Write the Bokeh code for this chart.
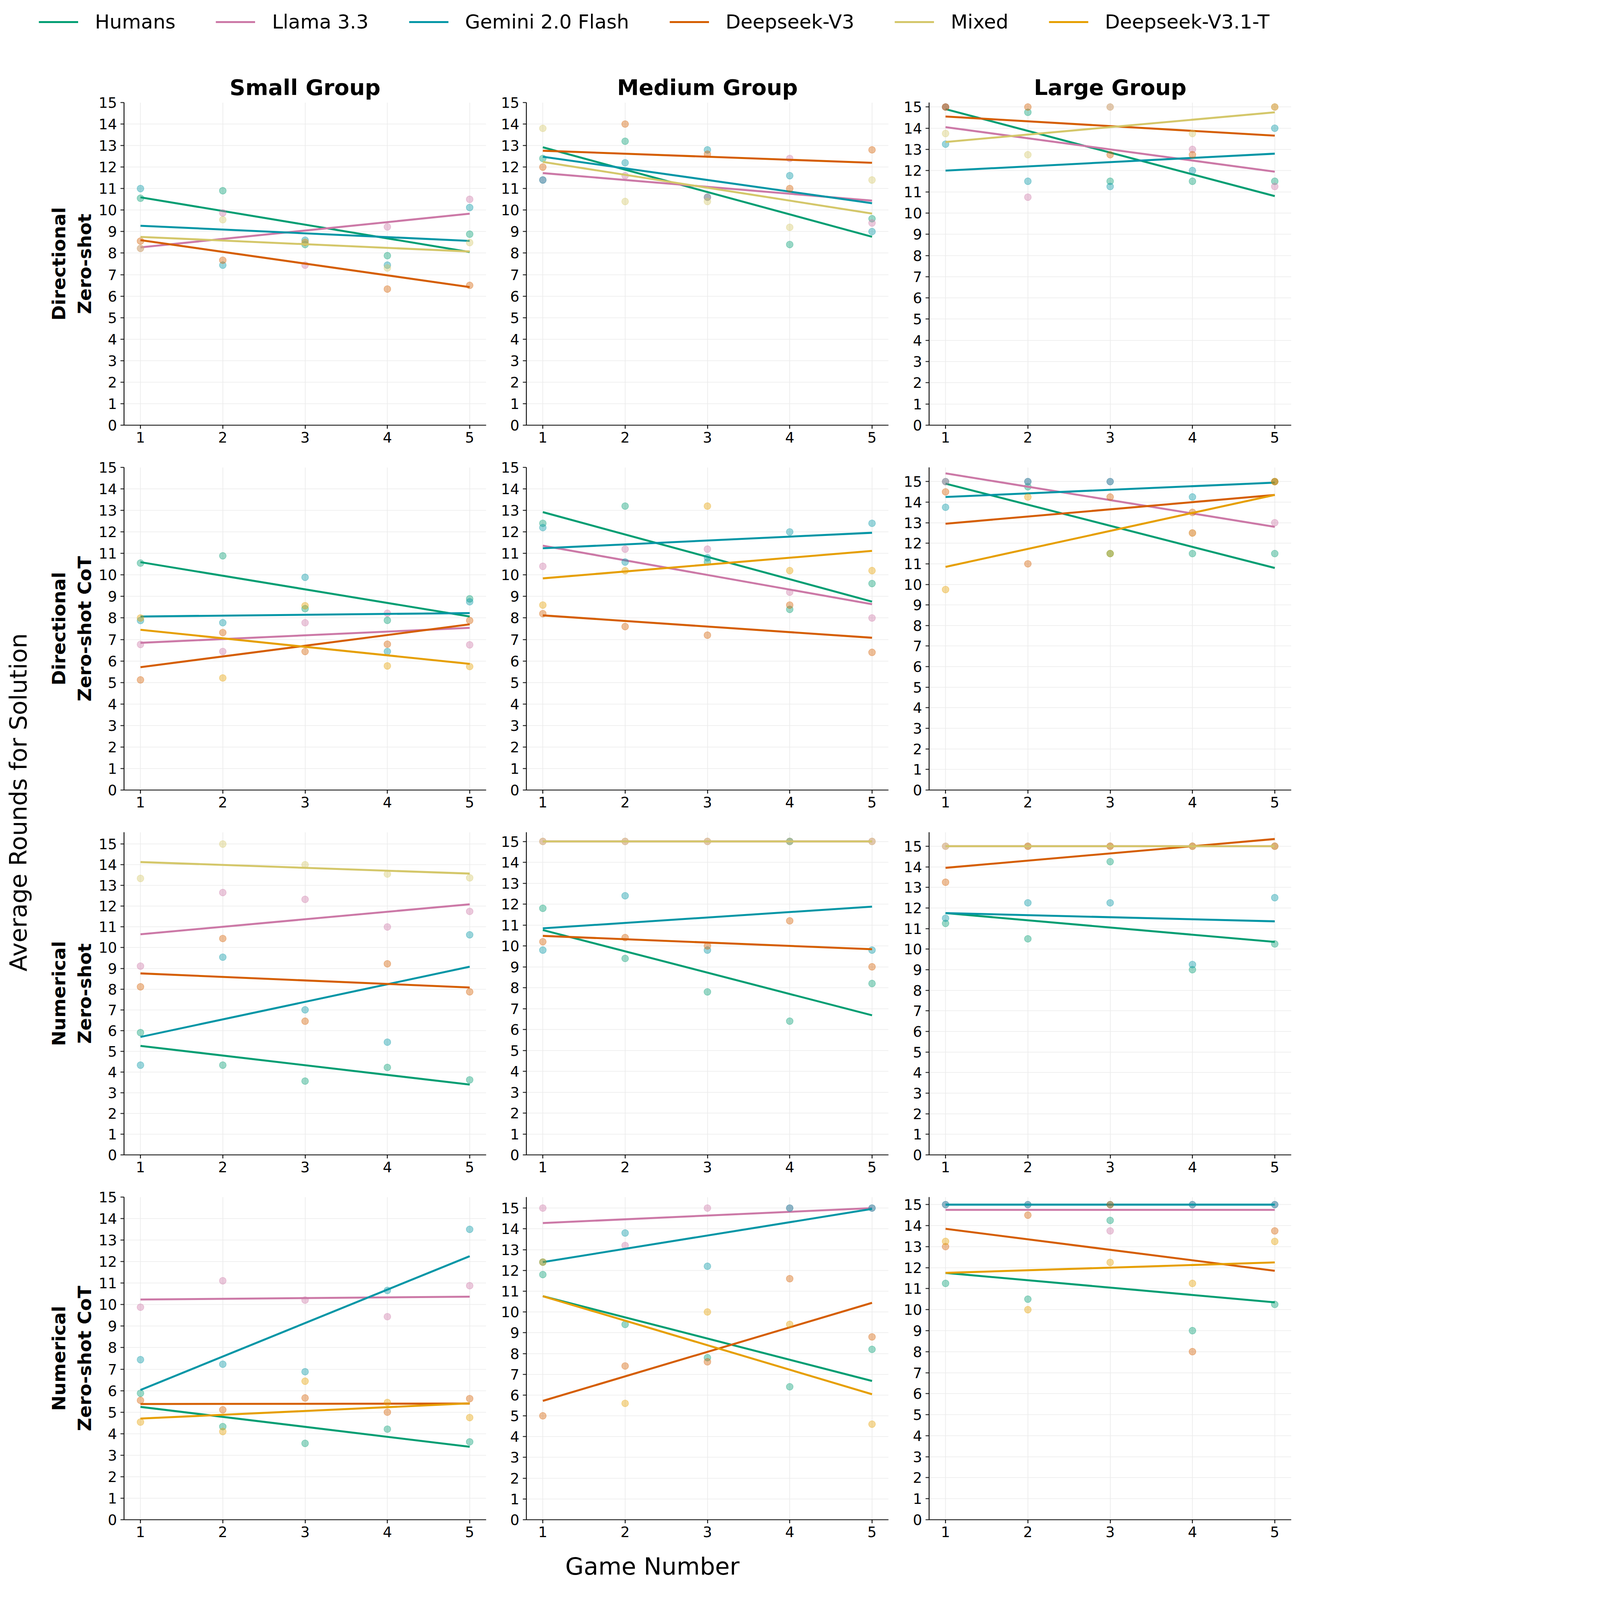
import numpy as np
from bokeh.plotting import figure
from bokeh.layouts import column, row
from bokeh.models import Range1d, FixedTicker, Legend, LegendItem
from bokeh.embed import file_html
from bokeh.resources import INLINE

# ---------------- data ----------------
GAMES = [1, 2, 3, 4, 5]
SERIES = ["Humans", "Llama 3.3", "Gemini 2.0 Flash", "Deepseek-V3", "Mixed", "Deepseek-V3.1-T"]
COLORS = ["#029E73", "#CC79A7", "#0396A6", "#D55E00", "#D4C76A", "#E69F00"]
GROUPS = ["Small Group", "Medium Group", "Large Group"]
CONDITIONS = ["Directional\nZero-shot", "Directional\nZero-shot CoT",
              "Numerical\nZero-shot", "Numerical\nZero-shot CoT"]
X_TICKS = [1, 2, 3, 4, 5]
Y_TICKS = list(range(0, 16))

# Directional Zero-shot
dir_zs_small = {
    "Humans": [10.55, 10.9, 8.4, 7.88, 8.88],
    "Llama 3.3": [8.22, 9.87, 7.44, 9.22, 10.5],
    "Gemini 2.0 Flash": [11.0, 7.44, 8.6, 7.44, 10.12],
    "Deepseek-V3": [8.56, 7.67, 8.5, 6.33, 6.5],
    "Mixed": [8.22, 9.55, 8.5, 7.31, 8.49],
}
dir_zs_medium = {
    "Humans": [12.4, 13.2, 10.6, 8.4, 9.6],
    "Llama 3.3": [11.4, 11.6, 10.6, 12.4, 9.4],
    "Gemini 2.0 Flash": [11.4, 12.2, 12.8, 11.6, 9.0],
    "Deepseek-V3": [12.0, 14.0, 12.6, 11.0, 12.8],
    "Mixed": [13.8, 10.4, 10.4, 9.2, 11.4],
}
dir_zs_large = {
    "Humans": [15.0, 14.75, 11.5, 11.5, 11.5],
    "Llama 3.3": [15.0, 10.75, 15.0, 13.0, 11.25],
    "Gemini 2.0 Flash": [13.25, 11.5, 11.25, 12.0, 14.0],
    "Deepseek-V3": [15.0, 15.0, 12.75, 12.75, 15.0],
    "Mixed": [13.75, 12.75, 15.0, 13.75, 15.0],
}
# Directional Zero-shot CoT
dir_cot_small = {
    "Humans": [10.55, 10.89, 8.43, 7.89, 8.89],
    "Llama 3.3": [6.77, 6.44, 7.78, 8.22, 6.75],
    "Gemini 2.0 Flash": [7.88, 7.78, 9.89, 6.44, 8.75],
    "Deepseek-V3": [5.12, 7.32, 6.44, 6.78, 7.88],
    "Deepseek-V3.1-T": [8.0, 5.21, 8.57, 5.77, 5.74],
}
dir_cot_medium = {
    "Humans": [12.4, 13.2, 10.6, 8.4, 9.6],
    "Llama 3.3": [10.4, 11.2, 11.2, 9.2, 8.0],
    "Gemini 2.0 Flash": [12.2, 10.6, 10.8, 12.0, 12.4],
    "Deepseek-V3": [8.2, 7.6, 7.2, 8.6, 6.4],
    "Deepseek-V3.1-T": [8.6, 10.2, 13.2, 10.2, 10.2],
}
dir_cot_large = {
    "Humans": [15.0, 14.75, 11.5, 11.5, 11.5],
    "Llama 3.3": [15.0, 15.0, 15.0, 12.5, 13.0],
    "Gemini 2.0 Flash": [13.75, 15.0, 15.0, 14.25, 15.0],
    "Deepseek-V3": [14.5, 11.0, 14.25, 13.5, 15.0],
    "Deepseek-V3.1-T": [9.75, 14.25, 11.5, 12.5, 15.0],
}
# Numerical Zero-shot
num_zs_small = {
    "Humans": [5.9, 4.33, 3.56, 4.22, 3.62],
    "Llama 3.3": [9.11, 12.66, 12.33, 11.0, 11.75],
    "Gemini 2.0 Flash": [4.33, 9.54, 7.0, 5.44, 10.62],
    "Deepseek-V3": [8.11, 10.44, 6.45, 9.22, 7.87],
    "Mixed": [13.34, 15.0, 14.0, 13.55, 13.37],
}
num_zs_medium = {
    "Humans": [11.8, 9.4, 7.8, 6.4, 8.2],
    "Llama 3.3": [15.0, 15.0, 15.0, 15.0, 15.0],
    "Gemini 2.0 Flash": [9.8, 12.4, 9.8, 15.0, 9.8],
    "Deepseek-V3": [10.2, 10.4, 10.0, 11.2, 9.0],
    "Mixed": [15.0, 15.0, 15.0, 15.0, 15.0],
}
num_zs_large = {
    "Humans": [11.25, 10.5, 14.25, 9.0, 10.25],
    "Llama 3.3": [15.0, 15.0, 15.0, 15.0, 15.0],
    "Gemini 2.0 Flash": [11.5, 12.25, 12.25, 9.25, 12.5],
    "Deepseek-V3": [13.25, 15.0, 15.0, 15.0, 15.0],
    "Mixed": [15.0, 15.0, 15.0, 15.0, 15.0],
}
# Numerical Zero-shot CoT
num_cot_small = {
    "Humans": [5.88, 4.33, 3.55, 4.21, 3.62],
    "Llama 3.3": [9.88, 11.11, 10.21, 9.44, 10.88],
    "Gemini 2.0 Flash": [7.44, 7.23, 6.88, 10.66, 13.5],
    "Deepseek-V3": [5.55, 5.11, 5.66, 5.0, 5.63],
    "Deepseek-V3.1-T": [4.54, 4.1, 6.44, 5.45, 4.75],
}
num_cot_medium = {
    "Humans": [11.8, 9.4, 7.8, 6.4, 8.2],
    "Llama 3.3": [15.0, 13.2, 15.0, 15.0, 15.0],
    "Gemini 2.0 Flash": [12.4, 13.8, 12.2, 15.0, 15.0],
    "Deepseek-V3": [5.0, 7.4, 7.6, 11.6, 8.8],
    "Deepseek-V3.1-T": [12.4, 5.6, 10.0, 9.4, 4.6],
}
num_cot_large = {
    "Humans": [11.25, 10.5, 14.25, 9.0, 10.25],
    "Llama 3.3": [15.0, 15.0, 13.75, 15.0, 15.0],
    "Gemini 2.0 Flash": [15.0, 15.0, 15.0, 15.0, 15.0],
    "Deepseek-V3": [13.0, 14.5, 15.0, 8.0, 13.75],
    "Deepseek-V3.1-T": [13.25, 10.0, 12.25, 11.25, 13.25],
}

PANELS = [
    [dir_zs_small, dir_zs_medium, dir_zs_large],
    [dir_cot_small, dir_cot_medium, dir_cot_large],
    [num_zs_small, num_zs_medium, num_zs_large],
    [num_cot_small, num_cot_medium, num_cot_large],
]
Y_TOP = [[15, 15, 15.21], [15, 15, 15.69], [15.57, 15.44, 15.68], [15, 15.53, 15.36]]

# ---------------- styling / layout ----------------
FONT = "DejaVu Sans"
K = 0.675  # overall scale so that the whole page fits the photographed area


def S(v):
    return int(round(v * K))


def px(v):
    return "%dpx" % S(v)


FRAME_W, FRAME_H = S(1374), S(1223)
STRIP_W = S(140)
LEFTS = [S(331), S(142), S(143)]
RIGHTS = [S(10), S(10), S(13)]
TOP_FIRST, TOP_OTHER, BOTTOM_B = S(188), S(50), S(110)
TOTAL_W = STRIP_W + sum(LEFTS) + sum(RIGHTS) + 3 * FRAME_W
GRID_H = (TOP_FIRST + FRAME_H + BOTTOM_B) + 3 * (TOP_OTHER + FRAME_H + BOTTOM_B)


def make_panel(r, c):
    data = PANELS[r][c]
    p = figure(frame_width=FRAME_W, frame_height=FRAME_H,
               x_range=Range1d(0.8, 5.2), y_range=Range1d(0, Y_TOP[r][c]),
               min_border_left=LEFTS[c], min_border_right=RIGHTS[c],
               min_border_top=TOP_FIRST if r == 0 else TOP_OTHER, min_border_bottom=BOTTOM_B,
               output_backend="svg", toolbar_location=None)
    if r == 0:
        p.title.text = GROUPS[c]
        p.title.align = "center"
        p.title.text_font = FONT
        p.title.text_font_size = px(83)
        p.title.text_font_style = "bold"
        p.title.text_color = "black"
        p.title.standoff = S(21)
    p.outline_line_color = None
    p.xaxis.ticker = FixedTicker(ticks=X_TICKS)
    p.yaxis.ticker = FixedTicker(ticks=Y_TICKS)
    for ax in p.axis:
        ax.axis_line_width = 3.3 * K
        ax.major_tick_line_width = 3.3 * K
        ax.major_tick_in = 0
        ax.major_tick_out = S(14)
        ax.minor_tick_line_color = None
        ax.major_label_text_font = FONT
        ax.major_label_text_font_size = px(55)
        ax.major_label_text_color = "black"
        ax.axis_line_color = "black"
        ax.major_tick_line_color = "black"
    p.xaxis.major_label_standoff = S(12)
    p.yaxis.major_label_standoff = S(14)
    p.grid.grid_line_color = "#ebebeb"
    p.grid.grid_line_width = 2.5 * K
    if c == 0:
        p.yaxis.axis_label = CONDITIONS[r]
        p.yaxis.axis_label_text_font = FONT
        p.yaxis.axis_label_text_font_size = px(70)
        p.yaxis.axis_label_text_font_style = "bold"
        p.yaxis.axis_label_text_color = "black"
        p.yaxis.axis_label_standoff = S(8)
    for name, col in zip(SERIES, COLORS):
        if name not in data:
            continue
        ys = data[name]
        p.scatter(GAMES, ys, size=26 * K, fill_color=col, fill_alpha=0.4,
                  line_color=col, line_alpha=0.4, line_width=2 * K)
        slope, icpt = np.polyfit(GAMES, ys, 1)
        xs = [GAMES[0], GAMES[-1]]
        p.line(xs, [icpt + slope * x for x in xs], line_color=col, line_width=7.5 * K)
    return p


# legend figure
leg_fig = figure(width=TOTAL_W, height=S(200), min_border=0, x_axis_type=None, y_axis_type=None,
                 x_range=Range1d(0, 1), y_range=Range1d(0, 1),
                 output_backend="svg", toolbar_location=None)
leg_fig.outline_line_color = None
items = []
for name, col in zip(SERIES, COLORS):
    rr = leg_fig.line([-2, -1], [-2, -1], line_color=col, line_width=7.5 * K)
    items.append(LegendItem(label=name, renderers=[rr]))
legend = Legend(items=items, orientation="horizontal", location=(S(105), S(74)),
                glyph_width=S(150), glyph_height=S(20), label_standoff=S(64), spacing=S(152),
                padding=0, margin=0, border_line_color=None, background_fill_alpha=0,
                label_text_font=FONT, label_text_font_size=px(74), label_text_color="black")
leg_fig.add_layout(legend, "center")

# left strip with the shared y label
strip = figure(width=STRIP_W, height=GRID_H, title="Average Rounds for Solution",
               title_location="left", min_border_left=S(126), min_border_right=2,
               min_border_top=S(17), min_border_bottom=3, x_axis_type=None, y_axis_type=None,
               x_range=Range1d(0, 1), y_range=Range1d(0, 1),
               output_backend="svg", toolbar_location=None)
strip.outline_line_color = None
strip.title.align = "center"
strip.title.text_font = FONT
strip.title.text_font_size = px(91)
strip.title.text_font_style = "normal"
strip.title.text_color = "black"
strip.title.standoff = S(10)

# bottom figure with shared x label
bottom = figure(width=TOTAL_W, height=S(137), title="Game Number", title_location="above",
                min_border_top=S(125), min_border_bottom=3, min_border_left=S(42), min_border_right=3,
                x_axis_type=None, y_axis_type=None, x_range=Range1d(0, 1), y_range=Range1d(0, 1),
                output_backend="svg", toolbar_location=None)
bottom.outline_line_color = None
bottom.title.align = "center"
bottom.title.text_font = FONT
bottom.title.text_font_size = px(91)
bottom.title.text_font_style = "normal"
bottom.title.text_color = "black"
bottom.title.standoff = S(10)

grid_rows = [row(*[make_panel(r, c) for c in range(3)], spacing=0) for r in range(4)]
body = row(strip, column(*grid_rows, spacing=0), spacing=0)
root = column(leg_fig, body, bottom, spacing=0)

open("out.html", "w").write(file_html(root, INLINE, title="Average Rounds for Solution"))
